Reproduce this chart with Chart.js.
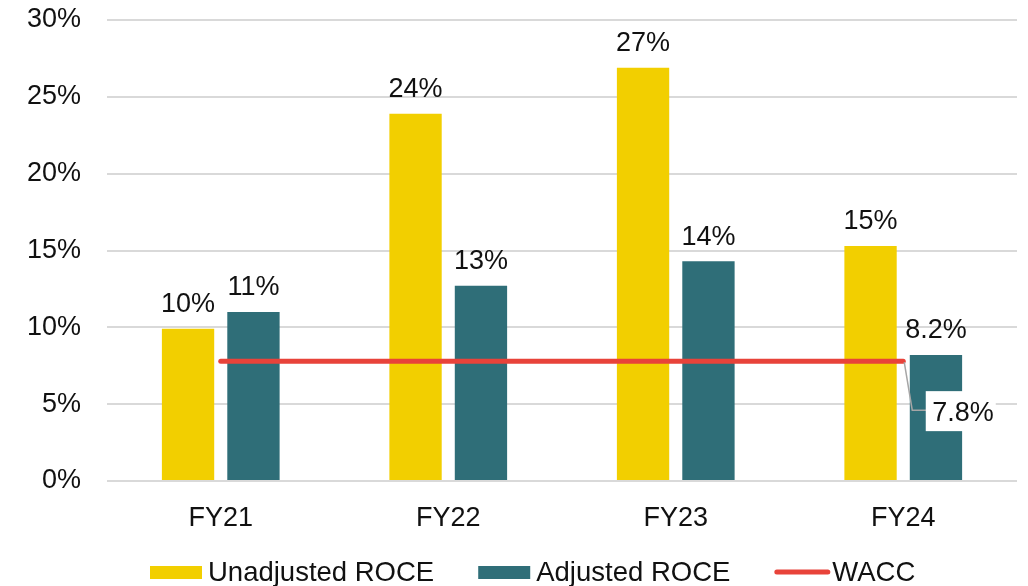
<!DOCTYPE html>
<html>
<head>
<meta charset="utf-8">
<script src="https://cdn.jsdelivr.net/npm/chart.js@4.4.1/dist/chart.umd.min.js"></script>
<style>
  html, body { margin: 0; padding: 0; background: #fff; }
  #wrap { width: 1028px; height: 586px; position: relative; }
</style>
</head>
<body>
<div id="wrap"><canvas id="roce" width="1028" height="586"></canvas></div>
<script>
const years = ["FY21", "FY22", "FY23", "FY24"];
const unadjustedRoce = [9.9, 23.9, 26.9, 15.3];
const adjustedRoce = [11.0, 12.7, 14.3, 8.2];
const wacc = [7.8, 7.8, 7.8, 7.8];
const yTicks = [0, 5, 10, 15, 20, 25, 30];

const FONT = "'Liberation Sans', Arial, sans-serif";
const FSIZE = 27;
const TEXT = "#111111";
const YELLOW = "#F2CF00";
const TEAL = "#2F6E78";
const RED = "#E8433A";

// 9.9 shows as 10%, 8.2 stays 8.2%
const fmtPct = (v) => (v >= 9.5 ? Math.round(v) : v.toFixed(1)) + "%";

const valueLabels = {
  id: "valueLabels",
  afterDatasetsDraw(chart) {
    const ctx = chart.ctx;
    ctx.save();
    ctx.font = FSIZE + "px " + FONT;
    ctx.fillStyle = TEXT;
    ctx.textAlign = "center";
    ctx.textBaseline = "alphabetic";
    chart.data.datasets.forEach((ds, i) => {
      if (ds.type === "line") return;
      chart.getDatasetMeta(i).data.forEach((bar, j) => {
        ctx.fillText(fmtPct(ds.data[j]), bar.x, bar.y - 16.5);
      });
    });

    // WACC callout on the last point
    const lineIdx = chart.data.datasets.findIndex((d) => d.type === "line");
    const pts = chart.getDatasetMeta(lineIdx).data;
    const p = pts[pts.length - 1];
    ctx.strokeStyle = "#a6a6a6";
    ctx.lineWidth = 1.5;
    ctx.beginPath();
    ctx.moveTo(p.x + 1, p.y + 1);
    ctx.lineTo(p.x + 9, p.y + 49);
    ctx.lineTo(p.x + 23, p.y + 49);
    ctx.stroke();
    ctx.fillStyle = "#ffffff";
    ctx.fillRect(p.x + 22.5, p.y + 30, 70, 40);
    ctx.fillStyle = TEXT;
    ctx.textAlign = "left";
    ctx.fillText(fmtPct(chart.data.datasets[lineIdx].data[pts.length - 1]), p.x + 29, p.y + 60);
    ctx.restore();
  }
};

const bottomLegend = {
  id: "bottomLegend",
  afterDraw(chart) {
    const ctx = chart.ctx;
    ctx.save();
    ctx.font = "27.5px " + FONT;
    ctx.textBaseline = "alphabetic";
    ctx.textAlign = "left";
    let x = 150;
    const base = 580.5;
    chart.data.datasets.forEach((ds) => {
      if (ds.type === "line") {
        ctx.strokeStyle = ds.borderColor;
        ctx.lineWidth = 5;
        ctx.lineCap = "round";
        ctx.beginPath();
        ctx.moveTo(x + 2.5, 572);
        ctx.lineTo(x + 53.5, 572);
        ctx.stroke();
      } else {
        ctx.fillStyle = ds.backgroundColor;
        ctx.fillRect(x, 566, 52, 13);
      }
      x += 58;
      ctx.fillStyle = TEXT;
      ctx.fillText(ds.label, x, base);
      x += ctx.measureText(ds.label).width + 44;
    });
    ctx.restore();
  }
};

new Chart(document.getElementById("roce"), {
  type: "bar",
  data: {
    labels: years,
    datasets: [
      {
        label: "Unadjusted ROCE",
        data: unadjustedRoce,
        backgroundColor: YELLOW,
        order: 1,
      },
      {
        label: "Adjusted ROCE",
        data: adjustedRoce,
        backgroundColor: TEAL,
        order: 1,
      },
      {
        type: "line",
        label: "WACC",
        data: wacc,
        borderColor: RED,
        backgroundColor: RED,
        borderWidth: 5,
        borderCapStyle: "round",
        pointRadius: 0,
        order: 0,
      },
    ],
  },
  options: {
    responsive: false,
    animation: false,
    categoryPercentage: 0.575,
    barPercentage: 0.8,
    layout: { padding: { top: 20, right: 11, left: 0, bottom: 0 } },
    plugins: {
      legend: { display: false },
      tooltip: { enabled: false },
    },
    scales: {
      x: {
        grid: { display: false },
        border: { display: false },
        ticks: { font: { family: FONT, size: FSIZE }, color: TEXT, padding: 13 },
        afterFit: (s) => { s.height = 105; },
      },
      y: {
        min: 0,
        max: 30,
        afterBuildTicks: (s) => { s.ticks = yTicks.map((v) => ({ value: v })); },
        grid: {
          color: "#d9d9d9",
          lineWidth: 2,
          drawTicks: true,
          tickLength: 26,
          tickColor: "rgba(0,0,0,0)",
        },
        border: { display: false },
        ticks: {
          font: { family: FONT, size: FSIZE },
          color: TEXT,
          padding: 0,
          callback: (v) => v + "%",
        },
        afterFit: (s) => { s.width = 107; },
      },
    },
  },
  plugins: [valueLabels, bottomLegend],
});
</script>
</body>
</html>
